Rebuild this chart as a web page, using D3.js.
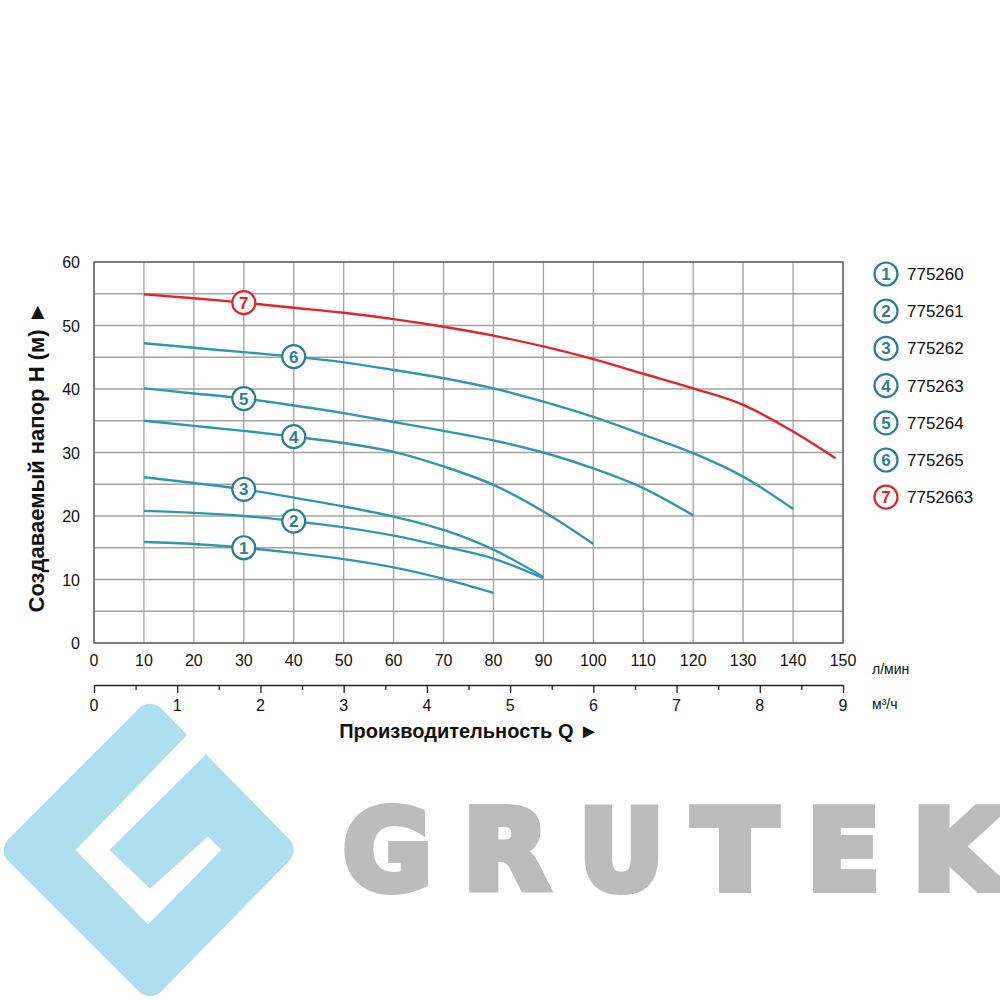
<!DOCTYPE html>
<html><head><meta charset="utf-8">
<script src="https://cdn.jsdelivr.net/npm/d3@7"></script>
<style>body{margin:0;background:#fff}svg{display:block}</style>
</head><body>
<svg id="c" width="1000" height="1000"></svg>
<script>
// ---- data ----
const xTicksLmin = [0,10,20,30,40,50,60,70,80,90,100,110,120,130,140,150];
const xTicksM3h = [0,1,2,3,4,5,6,7,8,9];
const yTicks = [0,10,20,30,40,50,60];
const seriesNames = ["775260","775261","775262","775263","775264","775265","7752663"];
const seriesIds = ["1","2","3","4","5","6","7"];
const q1 = [10,20,30,40,50,60,70,80];
const h1 = [15.9,15.6,15.0,14.2,13.2,11.9,10.1,7.9];
const q2 = [10,20,30,40,50,60,70,80,90];
const h2 = [20.8,20.5,20.0,19.2,18.2,16.9,15.2,13.3,10.2];
const q3 = [10,20,30,40,50,60,70,80,90];
const h3 = [26.1,25.2,24.2,22.9,21.5,19.9,17.8,14.7,10.4];
const q4 = [10,20,30,40,50,60,70,80,90,100];
const h4 = [35.0,34.2,33.4,32.5,31.5,30.1,27.8,24.9,20.7,15.6];
const q5 = [10,20,30,40,50,60,70,80,90,100,110,120];
const h5 = [40.1,39.3,38.5,37.4,36.2,34.8,33.4,31.9,30.0,27.5,24.4,20.1];
const q6 = [10,20,30,40,50,60,70,80,90,100,110,120,130,140];
const h6 = [47.2,46.5,45.8,45.1,44.2,43.0,41.7,40.1,38.0,35.6,32.8,29.9,26.2,21.1];
const q7 = [10,20,30,40,50,60,70,80,90,100,110,120,130,140,148.5];
const h7 = [54.9,54.3,53.6,52.8,52.0,51.0,49.8,48.4,46.7,44.7,42.4,40.1,37.5,33.3,29.1];
const markerQ = [30,40,30,40,30,40,30];

const seriesQ = [q1,q2,q3,q4,q5,q6,q7];
const seriesH = [h1,h2,h3,h4,h5,h6,h7];

// ---- drawing ----
const svg = d3.select("#c");
const teal = "#2f97b1", tealDark = "#2a7f93", red = "#e2252b";
const colorOf = i => i === 6 ? red : teal;
const markColor = i => i === 6 ? red : tealDark;

const x = d3.scaleLinear().domain([0,150]).range([94,843]);
const y = d3.scaleLinear().domain([0,60]).range([643,262]);
const x2 = d3.scaleLinear().domain([0,9]).range([94,843]);

// grid
const g = svg.append("g");
g.selectAll(".vg").data(d3.range(10,150,10)).join("line")
  .attr("x1",d=>x(d)).attr("x2",d=>x(d)).attr("y1",y(0)).attr("y2",y(60))
  .attr("stroke","#a3a3a3").attr("stroke-width",1.3);
g.selectAll(".hg").data(d3.range(5,60,5)).join("line")
  .attr("y1",d=>y(d)).attr("y2",d=>y(d)).attr("x1",x(0)).attr("x2",x(150))
  .attr("stroke","#a3a3a3").attr("stroke-width",1.3);
g.append("rect").attr("x",x(0)).attr("y",y(60)).attr("width",x(150)-x(0)).attr("height",y(0)-y(60))
  .attr("fill","none").attr("stroke","#555").attr("stroke-width",1.5);

const font = "Liberation Sans, Arial, sans-serif";
// y tick labels
svg.append("g").selectAll("text").data(yTicks).join("text")
  .attr("x",80).attr("y",d=>y(d)+6).attr("text-anchor","end")
  .attr("font-family",font).attr("font-size",16).attr("fill","#111").text(d=>d);
// x tick labels (l/min)
svg.append("g").selectAll("text").data(xTicksLmin).join("text")
  .attr("x",d=>x(d)).attr("y",666).attr("text-anchor","middle")
  .attr("font-family",font).attr("font-size",16).attr("fill","#111").text(d=>d);
svg.append("text").attr("x",872).attr("y",674).attr("font-family",font).attr("font-size",14).attr("fill","#111").text("л/мин");

// secondary axis m3/h
const ax2 = d3.axisBottom(x2).tickValues(d3.range(0,9.01,0.5)).tickSize(0).tickFormat("");
const a2 = svg.append("g").attr("transform","translate(0,685)").call(ax2);
a2.select(".domain").attr("stroke","#222").attr("stroke-width",1.3);
a2.selectAll(".tick line").attr("y2",d=>Number.isInteger(d)?8:5).attr("stroke","#222").attr("stroke-width",1.3);
svg.append("g").selectAll("text").data(xTicksM3h).join("text")
  .attr("x",d=>x2(d)).attr("y",711).attr("text-anchor","middle")
  .attr("font-family",font).attr("font-size",16).attr("fill","#111").text(d=>d);
svg.append("text").attr("x",872).attr("y",709).attr("font-family",font).attr("font-size",14).attr("fill","#111").text("м³/ч");

// axis titles
svg.append("text").attr("x",469).attr("y",738).attr("text-anchor","middle")
  .attr("font-family",font).attr("font-weight","bold").attr("font-size",20).attr("fill","#111")
  .text("Производительность Q ►");
svg.append("text").attr("transform","translate(44,457) rotate(-90)").attr("text-anchor","middle")
  .attr("font-family",font).attr("font-weight","bold").attr("font-size",22).attr("fill","#111")
  .text("Создаваемый напор Н (м) ►");

// curves
const line = d3.line().x(d=>x(d[0])).y(d=>y(d[1])).curve(d3.curveMonotoneX);
seriesQ.forEach((qs,i)=>{
  const pts = qs.map((q,j)=>[q,seriesH[i][j]]);
  svg.append("path").attr("d",line(pts)).attr("fill","none")
    .attr("stroke",colorOf(i)).attr("stroke-width",2.4);
});
// markers on curves
seriesQ.forEach((qs,i)=>{
  const j = qs.indexOf(markerQ[i]);
  const cx = x(markerQ[i]), cy = y(seriesH[i][j]);
  svg.append("circle").attr("cx",cx).attr("cy",cy).attr("r",11.5)
    .attr("fill","#fff").attr("stroke",markColor(i)).attr("stroke-width",2.2);
  svg.append("text").attr("x",cx).attr("y",cy+6).attr("text-anchor","middle")
    .attr("font-family",font).attr("font-weight","bold").attr("font-size",17).attr("fill",markColor(i)).text(seriesIds[i]);
});
// legend
seriesNames.forEach((nm,i)=>{
  const cy = 274 + i*37.2;
  svg.append("circle").attr("cx",886).attr("cy",cy).attr("r",11.5)
    .attr("fill","#fff").attr("stroke",markColor(i)).attr("stroke-width",2.2);
  svg.append("text").attr("x",886).attr("y",cy+6).attr("text-anchor","middle")
    .attr("font-family",font).attr("font-weight","bold").attr("font-size",17).attr("fill",markColor(i)).text(seriesIds[i]);
  svg.append("text").attr("x",907).attr("y",cy+6)
    .attr("font-family",font).attr("font-size",17).attr("fill","#111").text(nm);
});

// logo
const logo = svg.append("g");
const dia = [[150,700],[297,850],[150,1000],[0,850]];
logo.append("path").attr("d","M"+dia.map(p=>p.join(",")).join("L")+"Z")
  .attr("fill","#aedfee").attr("stroke","#aedfee").attr("stroke-width",36).attr("stroke-linejoin","round")
  .attr("transform","translate(150,850) scale(0.87) translate(-150,-850)");
const cut = [[204,719],[77,850],[148,923],[220,850],[208,838],[150,890],[108,850],[222,737]];
logo.append("path").attr("d","M"+cut.map(p=>p.join(",")).join("L")+"Z")
  .attr("fill","#fff").attr("stroke","#fff").attr("stroke-width",2).attr("stroke-linejoin","round");
const letters = ["G","R","U","T","E","K"];
const lx = [339,459,575,689,803,908];
const lw = [97,94,93,92,81,100];
letters.forEach((L,i)=>{
  logo.append("text").attr("x",lx[i]+4).attr("y",889).attr("font-family","DejaVu Sans, sans-serif")
    .attr("font-weight","bold").attr("font-size",110).attr("fill","#bcbcbc")
    .attr("stroke","#bcbcbc").attr("stroke-width",8).attr("stroke-linejoin","miter")
    .attr("textLength",lw[i]-8).attr("lengthAdjust","spacingAndGlyphs").text(L);
});
</script>
</body></html>
